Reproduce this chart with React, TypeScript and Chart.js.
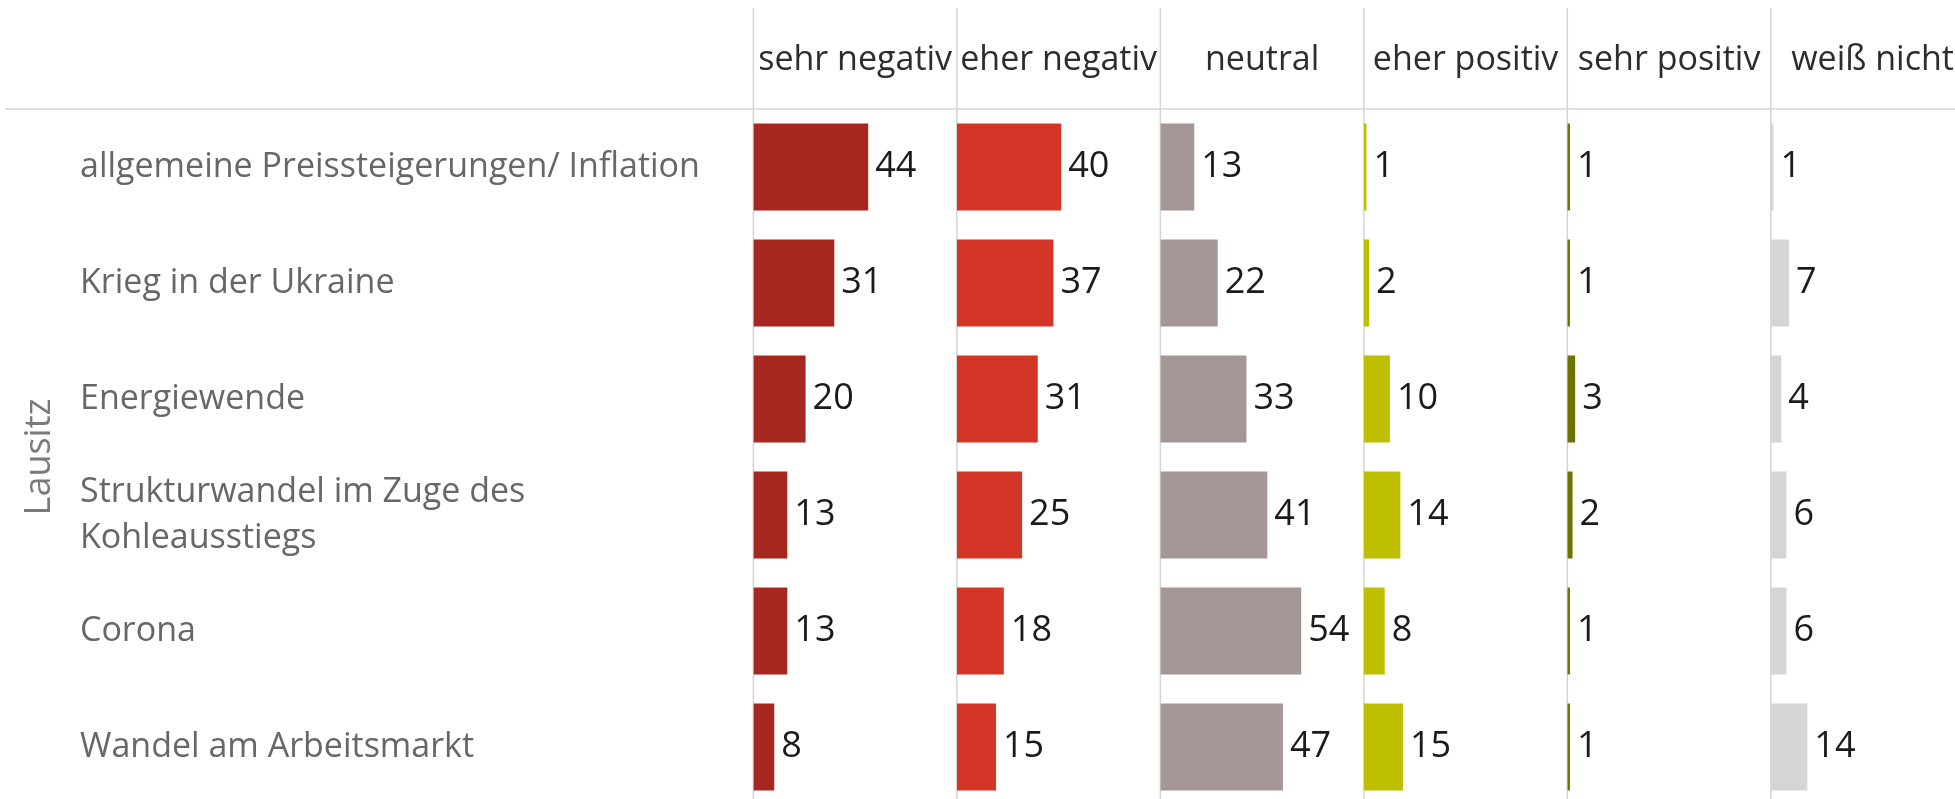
import React, { useEffect, useRef } from 'react';
import { Chart, registerables } from 'chart.js';

Chart.register(...registerables);

// ---- data ----
const groupTitle = 'Lausitz';
const categories: (string | string[])[] = [
  'allgemeine Preissteigerungen/ Inflation',
  'Krieg in der Ukraine',
  'Energiewende',
  ['Strukturwandel im Zuge des', 'Kohleausstiegs'],
  'Corona',
  'Wandel am Arbeitsmarkt',
];
const responseLabels = ['sehr negativ', 'eher negativ', 'neutral', 'eher positiv', 'sehr positiv', 'weiß nicht'];
const sehrNegativ = [44, 31, 20, 13, 13, 8];
const eherNegativ = [40, 37, 31, 25, 18, 15];
const neutral = [13, 22, 33, 41, 54, 47];
const eherPositiv = [1, 2, 10, 14, 8, 15];
const sehrPositiv = [1, 1, 3, 2, 1, 1];
const weissNicht = [1, 7, 4, 6, 6, 14];
const responseColors = ['#a5271e', '#d33527', '#a69797', '#bdbf00', '#6e7300', '#d5d5d5'];
const axisMax = 78;

const series = [sehrNegativ, eherNegativ, neutral, eherPositiv, sehrPositiv, weissNicht];
const FONT = "'Open Sans', 'Noto Sans', sans-serif";

const decorPlugin = {
  id: 'decor',
  beforeDatasetsDraw(chart: any) {
    const { ctx, chartArea } = chart;
    ctx.save();
    ctx.strokeStyle = '#d4d4d4';
    ctx.lineWidth = 1.5;
    ctx.beginPath();
    ctx.moveTo(5, chartArea.top);
    ctx.lineTo(chart.width, chartArea.top);
    ctx.stroke();
    responseLabels.forEach((_, i) => {
      const s = chart.scales['x' + i];
      ctx.beginPath();
      ctx.moveTo(s.left, s.top);
      ctx.lineTo(s.left, chart.height);
      ctx.stroke();
    });
    ctx.restore();
  },
  afterDatasetsDraw(chart: any) {
    const { ctx } = chart;
    ctx.save();
    ctx.font = `36px ${FONT}`;
    ctx.fillStyle = '#1b1b1b';
    ctx.textAlign = 'left';
    ctx.textBaseline = 'middle';
    chart.data.datasets.forEach((ds: any, di: number) => {
      const meta = chart.getDatasetMeta(di);
      meta.data.forEach((el: any, idx: number) => {
        ctx.fillText(String(ds.data[idx]), el.x + 7, el.y);
      });
    });
    ctx.restore();
  },
};

export default function App() {
  const ref = useRef<HTMLCanvasElement>(null);

  useEffect(() => {
    if (!ref.current) return;
    const scales: any = {
      y: {
        type: 'category',
        position: 'left',
        weight: 0,
        offset: true,
        grid: { display: false, drawTicks: false },
        border: { display: false },
        ticks: {
          crossAlign: 'far',
          padding: 0,
          autoSkip: false,
          color: '#676767',
          font: { family: FONT, size: 34, lineHeight: 1.35 },
        },
        afterFit: (s: any) => {
          s.width = 673.4;
          s.paddingTop = 0;
          s.paddingBottom = 0;
        },
      },
      yTitle: {
        type: 'linear',
        position: 'left',
        weight: 10,
        display: true,
        grid: { display: false, drawTicks: false },
        border: { display: false },
        ticks: { display: false },
        title: {
          display: true,
          text: groupTitle,
          color: '#7a7a7a',
          font: { family: FONT, size: 36, lineHeight: 1.2 },
          padding: { top: 18.4, bottom: 18.4 },
        },
        afterFit: (s: any) => {
          s.width = 80;
          s.paddingTop = 0;
          s.paddingBottom = 0;
        },
      },
    };
    responseLabels.forEach((label, i) => {
      scales['x' + i] = {
        type: 'linear',
        position: 'top',
        stack: 'cols',
        stackWeight: 1,
        weight: responseLabels.length - i,
        min: 0,
        max: axisMax,
        display: true,
        grid: { display: false, drawTicks: false },
        border: { display: false },
        ticks: { display: false },
        title: {
          display: true,
          text: label,
          color: '#2d2d2d',
          font: { family: FONT, size: 34, lineHeight: 1.2 },
          padding: { top: 32, bottom: 28.2 },
        },
      };
    });

    const chart = new Chart(ref.current, {
      type: 'bar',
      data: {
        labels: categories as any,
        datasets: series.map((data, i) => ({
          label: responseLabels[i],
          data,
          backgroundColor: responseColors[i],
          xAxisID: 'x' + i,
          yAxisID: 'y',
          grouped: false,
          categoryPercentage: 0.75,
          barPercentage: 1,
          borderWidth: 0,
        })),
      },
      options: {
        indexAxis: 'y',
        animation: false,
        responsive: true,
        maintainAspectRatio: false,
        layout: { padding: { left: 0, top: 8, right: 5.7, bottom: 1 } },
        plugins: {
          legend: { display: false },
          tooltip: { enabled: false },
        },
        scales,
      } as any,
      plugins: [decorPlugin],
    });
    return () => chart.destroy();
  }, []);

  return (
    <div
      style={{
        position: 'fixed',
        left: 0,
        top: 0,
        width: 1955,
        height: 799,
        overflow: 'hidden',
        background: '#ffffff',
      }}
    >
      <div style={{ position: 'relative', width: 1980, height: 806 }}>
        <canvas ref={ref} />
      </div>
    </div>
  );
}
